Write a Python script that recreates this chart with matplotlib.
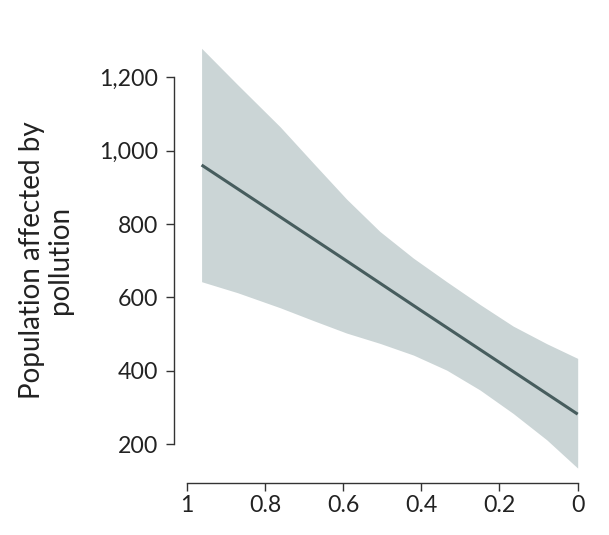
import matplotlib
matplotlib.use("Agg")
import matplotlib.pyplot as plt
import numpy as np

# Data
x_fit = [0.962, 0.8, 0.6, 0.4, 0.2, 0.0]
y_fit = [961, 847, 706, 564, 423, 282]

x_band = [0.962, 0.87, 0.761, 0.676, 0.591, 0.506, 0.42, 0.335, 0.25, 0.165, 0.079, 0.0]
y_upper = [1279, 1180, 1065, 966, 868, 780, 707, 643, 581, 522, 474, 434]
y_lower = [643, 613, 572, 537, 503, 475, 443, 402, 348, 284, 212, 135]

x_ticks = [1, 0.8, 0.6, 0.4, 0.2, 0]
x_ticklabels = ["1", "0.8", "0.6", "0.4", "0.2", "0"]
y_ticks = [200, 400, 600, 800, 1000, 1200]
y_ticklabels = ["200", "400", "600", "800", "1,000", "1,200"]
y_label = "Population affected by\npollution"

plt.rcParams['font.family'] = ['Lato', 'DejaVu Sans']

W, H = 609, 535
fig = plt.figure(figsize=(W / 100, H / 100), dpi=100)
ax = fig.add_axes([171.1 / W, 1 - 488.3 / H, (585.5 - 171.1) / W, (488.3 - 40.6) / H])
ax.set_xlim(1.04, -0.02)
ax.set_ylim(80, 1300)

ax.fill_between(x_band, y_lower, y_upper, color="#cbd5d6", linewidth=0)
ax.plot(x_fit, y_fit, color="#475d5e", linewidth=2.2, solid_capstyle="butt")

for s in ["top", "right"]:
    ax.spines[s].set_visible(False)
ax.spines["left"].set_position(("data", 1.0317))
ax.spines["bottom"].set_position(("data", 93.7))
ax.spines["left"].set_bounds(200, 1200)
ax.spines["bottom"].set_bounds(0, 1)
for s in ["left", "bottom"]:
    ax.spines[s].set_color("#333333")
    ax.spines[s].set_linewidth(1.0)

ax.set_xticks(x_ticks)
ax.set_xticklabels(x_ticklabels)
ax.set_yticks(y_ticks)
ax.set_yticklabels(y_ticklabels)
ax.tick_params(axis="both", length=5.5, width=1.0, color="#333333",
               labelsize=16.7, labelcolor="#222222")
ax.tick_params(axis="x", pad=3)
ax.tick_params(axis="y", pad=6)

fig.text(46 / W, 1 - 260 / H, y_label, rotation=90, ha="center", va="center",
         multialignment="center", fontsize=20, color="#222222", linespacing=1.05)

fig.savefig("out.png", dpi=100, facecolor="white")
